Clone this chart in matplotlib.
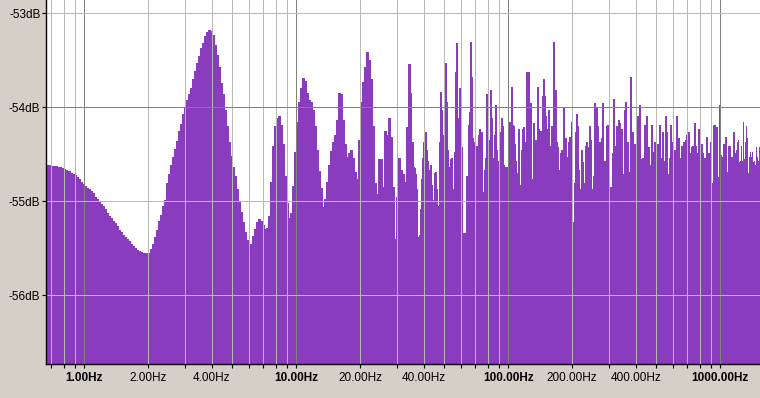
import matplotlib
matplotlib.use('Agg')
import matplotlib.pyplot as plt
import numpy as np

# frequency range of the analyser view (Hz)
freq_lo, freq_split, freq_hi = 0.66, 34.4, 1539

# levels (dB), coarse bins from freq_lo to freq_split
level_lo = [
    -54.62, -54.62, -54.62, -54.63, -54.63, -54.63, -54.64, -54.64, -54.65, -54.66,
    -54.67, -54.68, -54.70, -54.71, -54.73, -54.75, -54.77, -54.80, -54.82, -54.84,
    -54.86, -54.88, -54.90, -54.92, -54.96, -54.98, -55.01, -55.03, -55.06, -55.09,
    -55.13, -55.16, -55.18, -55.21, -55.24, -55.27, -55.31, -55.33, -55.36, -55.38,
    -55.41, -55.43, -55.46, -55.48, -55.50, -55.52, -55.53, -55.54, -55.55, -55.56,
    -55.56, -55.55, -55.51, -55.46, -55.38, -55.31, -55.22, -55.15, -55.06, -54.99,
    -54.81, -54.71, -54.62, -54.53, -54.45, -54.36, -54.26, -54.18, -54.08, -54.00,
    -53.93, -53.87, -53.80, -53.71, -53.62, -53.53, -53.46, -53.38, -53.32, -53.25,
    -53.21, -53.18, -53.19, -53.24, -53.34, -53.45, -53.58, -53.75, -53.87, -54.03,
    -54.21, -54.37, -54.52, -54.64, -54.74, -54.88, -55.00, -55.12, -55.23, -55.33,
    -55.42, -55.49, -55.46, -55.37, -55.30, -55.23, -55.19, -55.21, -55.26, -55.30,
    -55.29, -55.16, -54.80, -54.42, -54.21, -54.12, -54.10, -54.19, -54.40, -54.74,
    -55.02, -55.18, -55.13, -54.84, -54.48, -54.16, -53.95, -53.80, -53.69, -53.73,
    -53.85, -53.93, -53.95, -54.03, -54.21, -54.46, -54.68, -54.86, -55.07, -54.98,
    -54.80, -54.62, -54.47, -54.37, -54.30, -54.14, -53.85, -53.87, -54.14, -54.40,
    -54.53, -54.49, -54.46, -54.54, -54.69, -54.77, -54.35, -53.95, -53.74, -53.58,
    -53.42, -53.50, -53.71, -54.21, -54.81, -54.93, -54.56, -54.56, -54.85, -54.26,
    -54.30, -54.12, -54.32, -54.85, -55.41, -54.96, -54.54, -54.67, -54.72, -54.80,
    -54.22, -53.55,
]

# levels (dB), fine bins from freq_split to freq_hi
level_hi = [
    -53.85, -54.37, -54.37, -54.64, -54.65, -54.72, -54.88, -55.38, -55.66, -55.36,
    -55.09, -54.77, -54.54, -54.38, -54.33, -54.27, -54.46, -54.58, -54.70, -54.67,
    -54.62, -54.83, -54.99, -55.20, -54.70, -54.69, -54.88, -55.06, -55.52, -54.38,
    -53.84, -54.03, -54.30, -54.86, -54.56, -53.53, -53.95, -54.46, -54.80, -54.64,
    -54.56, -54.54, -54.88, -55.41, -54.48, -53.63, -53.32, -54.12, -54.19, -53.80,
    -54.14, -54.43, -55.34, -55.34, -55.66, -55.34, -54.74, -54.80, -54.19, -54.06,
    -53.31, -53.68, -54.33, -54.37, -54.48, -54.46, -54.42, -54.53, -54.30, -54.24,
    -54.27, -54.27, -54.91, -55.09, -54.67, -54.54, -53.87, -53.95, -54.96, -54.35,
    -53.82, -54.12, -55.52, -54.54, -54.30, -53.98, -54.46, -54.80, -54.58, -54.93,
    -54.27, -54.12, -54.21, -54.62, -54.64, -54.64, -54.64, -55.65, -54.35, -54.16,
    -54.27, -53.79, -54.19, -54.21, -54.40, -54.58, -54.74, -54.70, -54.24, -54.83,
    -55.31, -54.46, -54.24, -54.22, -54.37, -54.97, -53.63, -54.35, -53.63, -54.46,
    -53.96, -54.77, -55.38, -54.17, -54.51, -54.35, -54.54, -53.79, -54.24, -54.40,
    -54.26, -54.33, -53.89, -53.71, -53.89, -54.10, -54.35, -54.24, -54.03, -54.51,
    -54.42, -54.21, -54.22, -53.31, -53.84, -53.82, -54.38, -54.43, -55.06, -54.67,
    -54.49, -54.46, -54.85, -54.01, -54.85, -54.33, -54.53, -54.74, -54.38, -54.32,
    -54.33, -54.16, -55.23, -55.27, -54.81, -54.27, -54.08, -54.21, -54.67, -55.07,
    -54.88, -54.46, -54.59, -54.99, -54.81, -54.42, -54.38, -54.48, -54.43, -54.21,
    -54.35, -54.88, -54.88, -54.74, -53.96, -54.75, -54.01, -54.21, -54.40, -54.37,
    -54.58, -54.33, -53.96, -54.59, -54.58, -55.15, -54.21, -54.19, -54.37, -54.86,
    -54.85, -54.88, -54.49, -53.92, -54.42, -54.54, -54.21, -54.26, -54.14, -54.17,
    -54.53, -54.24, -54.72, -54.83, -54.03, -53.95, -54.56, -54.37, -54.85, -54.69,
    -53.68, -54.69, -54.27, -54.40, -54.40, -54.74, -54.99, -54.10, -54.48, -53.98,
    -54.72, -54.56, -54.54, -54.80, -54.19, -54.24, -54.10, -54.77, -54.43, -54.65,
    -54.62, -54.19, -54.69, -54.48, -54.38, -54.53, -54.77, -54.40, -54.70, -54.19,
    -54.93, -54.54, -54.27, -54.58, -54.85, -54.10, -54.27, -54.77, -54.72, -54.54,
    -54.19, -54.42, -54.38, -54.53, -54.46, -54.46, -54.10, -54.40, -54.33, -54.54,
    -54.83, -54.42, -54.48, -54.38, -54.37, -54.35, -54.30, -54.51, -54.27, -54.49,
    -54.51, -54.43, -54.42, -54.70, -54.17, -54.42, -54.54, -54.49, -54.24, -54.56,
    -54.64, -54.40, -54.49, -54.86, -54.54, -54.54, -54.32, -54.59, -54.49, -54.90,
    -54.37, -54.81, -54.81, -54.19, -54.19, -54.75, -54.22, -54.75, -54.77, -53.98,
    -54.51, -54.53, -54.56, -54.40, -54.51, -54.32, -54.80, -54.69, -54.42, -54.42,
    -54.54, -54.53, -54.59, -54.27, -54.67, -54.49, -54.46, -54.38, -54.35, -54.59,
    -54.58, -54.42, -54.58, -54.16, -54.56, -54.38, -54.21, -54.33, -54.70, -54.53,
    -54.48, -54.53, -54.48, -54.59, -54.58, -54.62, -54.43, -54.53, -54.58, -54.43,
]

db_ticks = [-53, -54, -55, -56]
db_labels = ['-53dB', '-54dB', '-55dB', '-56dB']
freq_ticks = [0.7, 0.8, 0.9, 1, 2, 3, 4, 5, 6, 7, 8, 9, 10, 20, 30, 40, 50, 60, 70, 80, 90,
              100, 200, 300, 400, 500, 600, 700, 800, 900, 1000]
freq_labels = {1: '1.00Hz', 2: '2.00Hz', 4: '4.00Hz', 10: '10.00Hz', 20: '20.00Hz',
               40: '40.00Hz', 100: '100.00Hz', 200: '200.00Hz', 400: '400.00Hz',
               1000: '1000.00Hz'}
decades = [1, 10, 100, 1000]

edges = np.concatenate([np.geomspace(freq_lo, freq_split, len(level_lo) + 1),
                        np.geomspace(freq_split, freq_hi, len(level_hi) + 1)[1:]])
levels = np.array(level_lo + level_hi)

fig = plt.figure(figsize=(7.6, 3.98), dpi=100, facecolor='#d4d0c8')
ax = fig.add_axes([46 / 760, 34 / 398, 714 / 760, 364 / 398])
ax.set_facecolor('white')
ax.set_xscale('log')
ax.set_xlim(freq_lo, freq_hi)
ax.set_ylim(-56.73, -52.86)

ax.stairs(levels, edges, baseline=-58, fill=True, color='#8a3cbe', lw=0,
          antialiased=False, zorder=2)

# grid over the spectrum
for f in freq_ticks:
    ax.axvline(f, color='#808080' if f in decades else '#b8b8b8', lw=0.72,
               antialiased=False, zorder=3)
for d in db_ticks:
    ax.axhline(d, color='#808080' if d == -54 else '#b8b8b8', lw=0.72,
               antialiased=False, zorder=3)

for s in ['top', 'right']:
    ax.spines[s].set_visible(False)
for s in ['left', 'bottom']:
    ax.spines[s].set_color('black')
    ax.spines[s].set_linewidth(1)
    ax.spines[s].set_zorder(4)

ax.set_yticks(db_ticks)
ax.set_yticklabels(db_labels)
ax.set_xticks(freq_ticks)
ax.set_xticklabels([freq_labels.get(f, '') for f in freq_ticks])
ax.xaxis.set_minor_locator(matplotlib.ticker.NullLocator())
ax.tick_params(axis='both', direction='out', length=3, width=0.8, color='black',
               labelsize=8.5, labelcolor='black')
ax.tick_params(axis='y', pad=1)
ax.tick_params(axis='x', pad=3)
for f, lab in zip(freq_ticks, ax.get_xticklabels()):
    lab.set_fontfamily('Liberation Sans')
    if f in decades:
        lab.set_fontweight('bold')
for lab in ax.get_yticklabels():
    lab.set_fontfamily('Liberation Sans')

fig.savefig('out.png', dpi=100, facecolor=fig.get_facecolor())
plt.close(fig)
